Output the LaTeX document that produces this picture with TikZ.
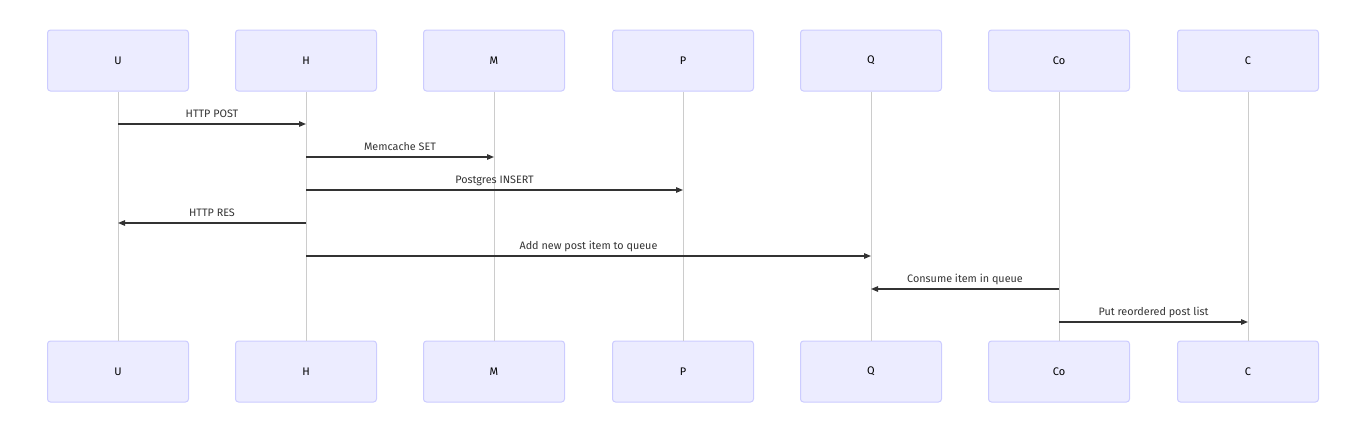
\documentclass[tikz,border=0pt]{standalone}
\usepackage{fontspec}
\setmainfont{Fira Sans}
\usetikzlibrary{arrows.meta}
\definecolor{actfill}{HTML}{ECECFF}
\definecolor{actdraw}{HTML}{CCCCFF}
\definecolor{life}{HTML}{CCCCCC}
\definecolor{msgc}{HTML}{333333}
\tikzset{
  actor/.style={draw=actdraw, fill=actfill, line width=1pt, rounded corners=3pt,
    minimum width=141pt, minimum height=61pt, inner sep=0pt,
    font=\fontsize{11}{12}\selectfont, text=black},
  lifeline/.style={draw=life, line width=1pt},
  msg/.style={draw=msgc, line width=1.2pt, -{Triangle[length=7pt,width=5.5pt]}},
  lbl/.style={font=\fontsize{10.8}{12}\selectfont, text=msgc, inner sep=0pt, anchor=base}
}
\begin{document}
\begin{tikzpicture}[x=1pt,y=-1pt]
\useasboundingbox (0,0) rectangle (1366,440);
\foreach \n/\t/\x in {U/U/118, H/H/306, M/M/494, P/P/683, Q/Q/871, Co/Co/1059, C/C/1248} {
  \node[actor] (\n t) at (\x,60.5) {\t};
  \node[actor] (\n b) at (\x,371.5) {\t};
  \draw[lifeline] (\n t.south) -- (\n b.north);
}
\foreach \i/\y in {1/124, 2/157, 3/190, 4/223, 5/256, 6/289, 7/322} {
  \coordinate (y\i) at (0,\y);
}
\draw[msg] (Ut |- y1) -- node[lbl, yshift=6.5pt] {HTTP POST} (Ht |- y1);
\draw[msg] (Ht |- y2) -- node[lbl, yshift=6.5pt] {Memcache SET} (Mt |- y2);
\draw[msg] (Ht |- y3) -- node[lbl, yshift=6.5pt] {Postgres INSERT} (Pt |- y3);
\draw[msg] (Ht |- y4) -- node[lbl, yshift=6.5pt] {HTTP RES} (Ut |- y4);
\draw[msg] (Ht |- y5) -- node[lbl, yshift=6.5pt] {Add new post item to queue} (Qt |- y5);
\draw[msg] (Cot |- y6) -- node[lbl, yshift=6.5pt] {Consume item in queue} (Qt |- y6);
\draw[msg] (Cot |- y7) -- node[lbl, yshift=6.5pt] {Put reordered post list} (Ct |- y7);
\end{tikzpicture}
\end{document}
